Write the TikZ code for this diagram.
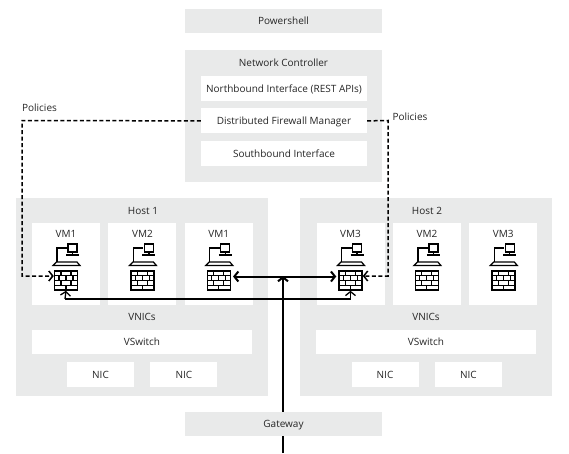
\documentclass[tikz,border=0pt]{standalone}
\usepackage{fontspec}
\setmainfont{Open Sans}
\usetikzlibrary{arrows.meta, positioning}
\definecolor{panelgray}{HTML}{E9EAEA}
\tikzset{%
	panel/.style={draw=none, fill=panelgray, rectangle, inner sep=0mm, font=\fontsize{10}{12}\selectfont, text=black!85, text height=7.5pt, text depth=0pt},
	inbox/.style={panel, fill=white},
	wide/.style={panel, minimum width=197pt, minimum height=24pt},
	host/.style={panel, minimum width=252pt, minimum height=198pt},
	iface/.style={inbox, minimum width=166pt, minimum height=25pt},
	vm/.style={inbox, minimum width=68pt, minimum height=82pt},
	vswitch/.style={inbox, minimum width=220pt, minimum height=24pt},
	nic/.style={inbox, minimum width=67pt, minimum height=25pt},
	plain/.style={font=\fontsize{10}{12}\selectfont, text=black!85, inner sep=0pt, text height=7.5pt, text depth=0pt},
	fw/.style={draw, line width=1.5pt, rectangle, minimum width=23pt, minimum height=19pt, inner sep=0pt,
		path picture={
			\begin{scope}[shift={(path picture bounding box.center)}, line width=1.1pt]
				\draw (-12,-4.75) -- (12,-4.75) (-12,0) -- (12,0) (-12,4.75) -- (12,4.75);
				\draw (-5,-9.5) -- (-5,-4.75) (5,-9.5) -- (5,-4.75);
				\draw (0,-4.75) -- (0,0) (-7,-4.75) -- (-7,0) (7,-4.75) -- (7,0);
				\draw (-5,0) -- (-5,4.75) (5,0) -- (5,4.75);
				\draw (0,4.75) -- (0,9.5);
			\end{scope}
		}},
	policy/.style={line width=1.5pt, dash pattern=on 4pt off 2.5pt, -{Straight Barb[length=4pt,width=10pt]}},
	link/.style={line width=2pt, -{Straight Barb[length=4pt,width=10pt]}},
	lowlink/.style={link, line width=1.3pt},
	vmicon/.pic={
		\draw[line width=1.2pt] (-9,-18.5) -- (-9,-32.5) -- (1,-32.5);
		\draw[line width=1.2pt] (2,-36.5) rectangle (11,-28.5);
		\draw[line width=1.2pt] (6.5,-28.5) -- (6.5,-25.5) (0,-25.5) -- (13,-25.5);
		\draw[line width=1.2pt] (-13,-15) -- (-9.5,-18.5) -- (11,-18.5) -- (14,-15) -- cycle;
	}
}
\begin{document}
\begin{tikzpicture}[x=1pt, y=-1pt]
	\useasboundingbox (0,0) rectangle (569,453);

	\node[wide] (shell) at (283.5,21) {Powershell};
	\node[panel, minimum width=197pt, minimum height=132pt] (ctrl) at (283.5,116) {};
	\node[plain] (ctrltitle) at (283.5,63) {Network Controller};
	\node[iface] (north) at (284,88.5) {Northbound Interface (REST APIs)};
	\node[iface, below=7pt of north] (fwman) {Distributed Firewall Manager};
	\node[iface, below=7pt of fwman] (south) {Southbound Interface};
	\node[wide] (gw) at (283.5,424) {Gateway};

	% hosts
	\node[host] (host1) at (142,297) {};
	\node[host] (host2) at (426,297) {};
	\node[plain] (title1) at (143,211) {Host 1};
	\node[plain] (title2) at (427,211) {Host 2};

	\node[vm] (a1) at (66,264) {};
	\node[vm, right=8pt of a1] (a2) {};
	\node[vm, right=8pt of a2] (a3) {};
	\node[vm] (b1) at (350.5,264) {};
	\node[vm, right=8pt of b1] (b2) {};
	\node[vm, right=8pt of b2] (b3) {};

	\foreach \vmbox/\vmname in {a1/VM1, a2/VM2, a3/VM1, b1/VM3, b2/VM2, b3/VM3} {
		\node[plain] (\vmbox t) at ([yshift=-11pt]\vmbox.north) {\vmname};
		\node[fw] (\vmbox f) at ([yshift=-16.5pt]\vmbox.center) {};
		\pic at (\vmbox f.center) {vmicon};
	}

	\node[plain] (nics1) at (142,317) {VNICs};
	\node[plain] (nics2) at (426,317) {VNICs};
	\node[vswitch] (sw1) at (142,342) {VSwitch};
	\node[vswitch] (sw2) at (426,342) {VSwitch};
	\node[nic] (n1) at (100.5,374.5) {NIC};
	\node[nic, right=16pt of n1] (n2) {NIC};
	\node[nic] (n3) at (385,374.5) {NIC};
	\node[nic, right=16pt of n3] (n4) {NIC};

	\node[plain] (pol1) at (39.5,108) {Policies};
	\node[plain] (pol2) at (410,117) {Policies};

	\coordinate (turn1) at (22,120.5);
	\coordinate (turn2) at (388,120.5);
	\coordinate (join) at (283,276);
	\coordinate (entry) at (283,453);
	\coordinate (low) at (65,299);

	\draw[policy] (fwman.west) -- (turn1) |- ([yshift=4.5pt]a1f.west);
	\draw[policy] (fwman.east) -- (turn2) |- ([yshift=4.5pt]b1f.east);
	\draw[link, {Straight Barb[length=4pt,width=10pt]}-{Straight Barb[length=4pt,width=10pt]}, shorten <=2pt, shorten >=2pt] ([yshift=4pt]a3f.east) -- ([yshift=4pt]b1f.west);
	\draw[link, -] (entry) -- (gw.south -| entry);
	\draw[link] (gw.north -| entry) -- (join);
	\draw[lowlink] (low) -- (a1f.south);
	\draw[lowlink] (low) -| (b1f.south);
\end{tikzpicture}
\end{document}
